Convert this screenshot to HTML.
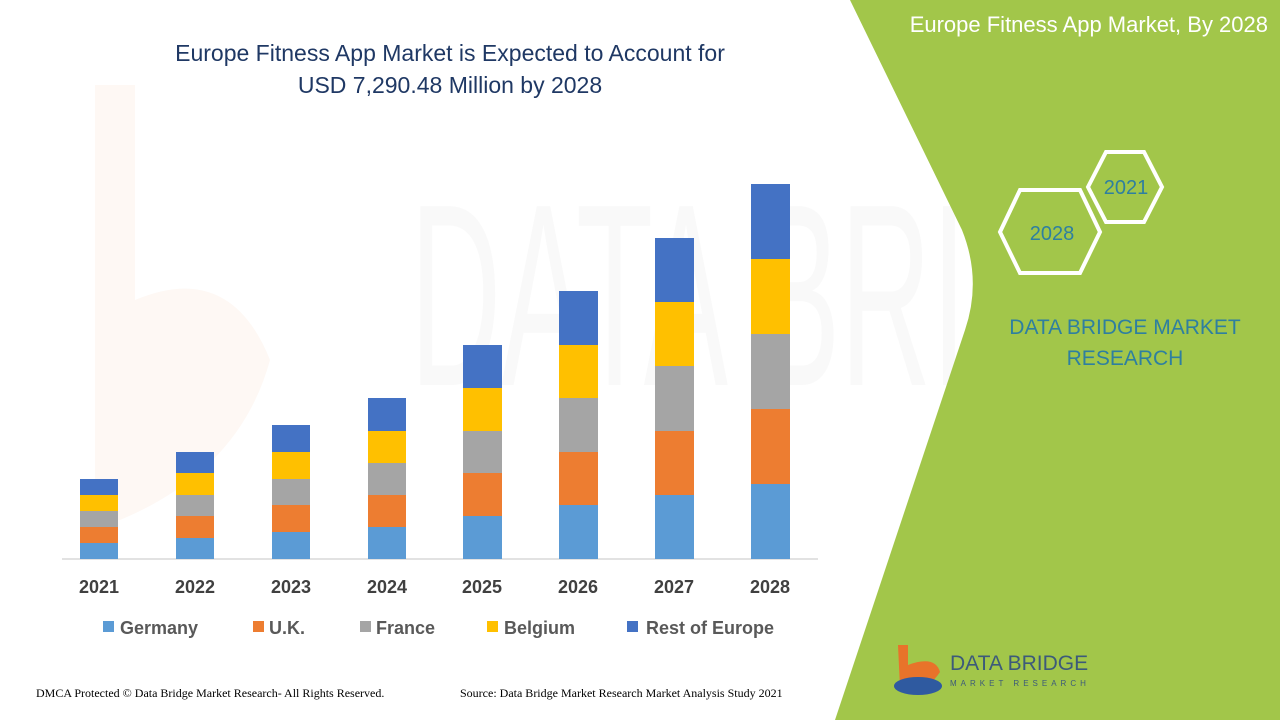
<!DOCTYPE html>
<html><head><meta charset="utf-8"><style>
html,body{margin:0;padding:0;background:#fff;}
svg{display:block;}
</style></head><body>
<svg width="1280" height="720" viewBox="0 0 1280 720" xmlns="http://www.w3.org/2000/svg" font-family="Liberation Sans, sans-serif">
<rect width="1280" height="720" fill="#fff"/>
<!-- faint watermark -->
<path d="M95 85 L135 85 L135 300 Q230 260 270 360 Q240 470 120 520 L95 520 Z" fill="#fef8f4"/>
<text x="410" y="385" font-size="260" fill="#f9f9f9" textLength="830" lengthAdjust="spacingAndGlyphs">DATA BRIDGE</text>
<!-- green panel -->
<path d="M850 0 L1280 0 L1280 720 L835 720 L965 330 Q982 280 962 230 Z" fill="#a2c64a"/>
<text x="1268" y="32" font-size="22" fill="#fff" text-anchor="end">Europe Fitness App Market, By 2028</text>
<polygon points="1088,187 1106,152 1144,152 1162,187 1144,222 1106,222" fill="none" stroke="#fff" stroke-width="4"/>
<text x="1126" y="194" font-size="20" fill="#2e7fa0" text-anchor="middle">2021</text>
<polygon points="1000,232 1020,190 1080,190 1100,232 1080,273 1020,273" fill="none" stroke="#fff" stroke-width="4"/>
<text x="1052" y="240" font-size="20" fill="#2e7fa0" text-anchor="middle">2028</text>
<text x="1125" y="334" font-size="21" fill="#2e7fa0" text-anchor="middle">DATA BRIDGE MARKET</text>
<text x="1125" y="365" font-size="21" fill="#2e7fa0" text-anchor="middle">RESEARCH</text>
<!-- logo -->
<path d="M898 645 L908 645 L908 665 Q935 655 940 672 Q925 695 900 688 Z" fill="#e8732a"/>
<ellipse cx="918" cy="686" rx="24" ry="9" fill="#2f5aa0"/>
<text x="950" y="670" font-size="21" fill="#3c5a7a">DATA BRIDGE</text>
<text x="950" y="686" font-size="8" fill="#3c5a7a" letter-spacing="4">MARKET RESEARCH</text>
<!-- title -->
<text x="450" y="61" font-size="23" fill="#1f3864" text-anchor="middle">Europe Fitness App Market is Expected to Account for</text>
<text x="450" y="93" font-size="23" fill="#1f3864" text-anchor="middle">USD 7,290.48 Million by 2028</text>
<!-- axis -->
<line x1="62" y1="559" x2="818" y2="559" stroke="#d9d9d9" stroke-width="1.5"/>
<!-- bars -->
<g>
<rect x="80" y="543" width="38" height="16" fill="#5b9bd5"/><rect x="80" y="527" width="38" height="16" fill="#ed7d31"/><rect x="80" y="511" width="38" height="16" fill="#a5a5a5"/><rect x="80" y="495" width="38" height="16" fill="#ffc000"/><rect x="80" y="479" width="38" height="16" fill="#4472c4"/>
<rect x="176" y="538" width="38" height="21" fill="#5b9bd5"/><rect x="176" y="516" width="38" height="22" fill="#ed7d31"/><rect x="176" y="495" width="38" height="21" fill="#a5a5a5"/><rect x="176" y="473" width="38" height="22" fill="#ffc000"/><rect x="176" y="452" width="38" height="21" fill="#4472c4"/>
<rect x="272" y="532" width="38" height="27" fill="#5b9bd5"/><rect x="272" y="505" width="38" height="27" fill="#ed7d31"/><rect x="272" y="479" width="38" height="26" fill="#a5a5a5"/><rect x="272" y="452" width="38" height="27" fill="#ffc000"/><rect x="272" y="425" width="38" height="27" fill="#4472c4"/>
<rect x="368" y="527" width="38" height="32" fill="#5b9bd5"/><rect x="368" y="495" width="38" height="32" fill="#ed7d31"/><rect x="368" y="463" width="38" height="32" fill="#a5a5a5"/><rect x="368" y="431" width="38" height="32" fill="#ffc000"/><rect x="368" y="398" width="38" height="33" fill="#4472c4"/>
<rect x="463" y="516" width="39" height="43" fill="#5b9bd5"/><rect x="463" y="473" width="39" height="43" fill="#ed7d31"/><rect x="463" y="431" width="39" height="42" fill="#a5a5a5"/><rect x="463" y="388" width="39" height="43" fill="#ffc000"/><rect x="463" y="345" width="39" height="43" fill="#4472c4"/>
<rect x="559" y="505" width="39" height="54" fill="#5b9bd5"/><rect x="559" y="452" width="39" height="53" fill="#ed7d31"/><rect x="559" y="398" width="39" height="54" fill="#a5a5a5"/><rect x="559" y="345" width="39" height="53" fill="#ffc000"/><rect x="559" y="291" width="39" height="54" fill="#4472c4"/>
<rect x="655" y="495" width="39" height="64" fill="#5b9bd5"/><rect x="655" y="431" width="39" height="64" fill="#ed7d31"/><rect x="655" y="366" width="39" height="65" fill="#a5a5a5"/><rect x="655" y="302" width="39" height="64" fill="#ffc000"/><rect x="655" y="238" width="39" height="64" fill="#4472c4"/>
<rect x="751" y="484" width="39" height="75" fill="#5b9bd5"/><rect x="751" y="409" width="39" height="75" fill="#ed7d31"/><rect x="751" y="334" width="39" height="75" fill="#a5a5a5"/><rect x="751" y="259" width="39" height="75" fill="#ffc000"/><rect x="751" y="184" width="39" height="75" fill="#4472c4"/>
</g>
<g font-size="18" font-weight="bold" fill="#404040" text-anchor="middle">
<text x="99" y="593">2021</text><text x="195" y="593">2022</text><text x="291" y="593">2023</text><text x="387" y="593">2024</text><text x="482" y="593">2025</text><text x="578" y="593">2026</text><text x="674" y="593">2027</text><text x="770" y="593">2028</text>
</g>
<g font-size="18" font-weight="bold" fill="#595959">
<rect x="103" y="621" width="11" height="11" fill="#5b9bd5"/><text x="120" y="634">Germany</text>
<rect x="253" y="621" width="11" height="11" fill="#ed7d31"/><text x="269" y="634">U.K.</text>
<rect x="360" y="621" width="11" height="11" fill="#a5a5a5"/><text x="376" y="634">France</text>
<rect x="487" y="621" width="11" height="11" fill="#ffc000"/><text x="504" y="634">Belgium</text>
<rect x="627" y="621" width="11" height="11" fill="#4472c4"/><text x="646" y="634">Rest of Europe</text>
</g>
<text x="36" y="697" font-size="12" font-family="Liberation Serif, serif" fill="#000">DMCA Protected © Data Bridge Market Research- All Rights Reserved.</text>
<text x="460" y="697" font-size="12" font-family="Liberation Serif, serif" fill="#000">Source: Data Bridge Market Research Market Analysis Study 2021</text>
</svg>
</body></html>
